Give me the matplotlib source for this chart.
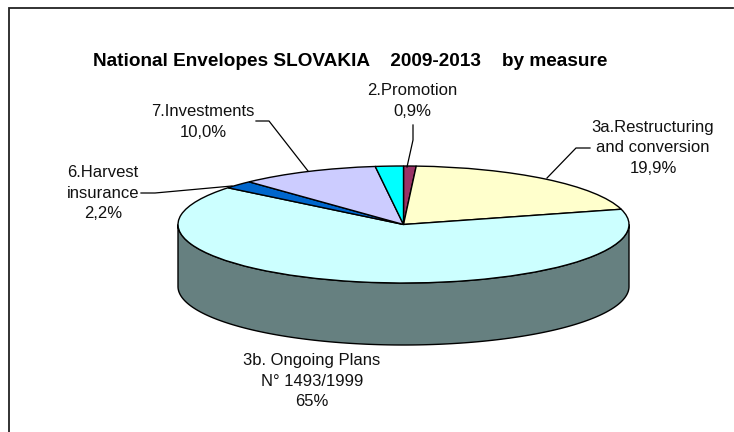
import numpy as np
import matplotlib
matplotlib.use('Agg')
import matplotlib.pyplot as plt
from matplotlib.patches import Polygon

plt.rcParams['font.family'] = ['Liberation Sans', 'DejaVu Sans']

W, H = 734, 432

# clockwise from 12 o'clock
names = ['2.Promotion', '3a.Restructuring\nand conversion', '3b. Ongoing Plans\nN° 1493/1999',
         '6.Harvest\ninsurance', '7.Investments', '']
values = [0.9, 19.9, 65.0, 2.2, 10.0, 2.0]
value_labels = ['0,9%', '19,9%', '65%', '2,2%', '10,0%', '']
colors = ['#993366', '#FFFFCC', '#CCFFFF', '#0066CC', '#CCCCFF', '#00FFFF']
side_color = '#668080'
title = 'National Envelopes SLOVAKIA    2009-2013    by measure'

# pie geometry in pixels
cx, cy = 403.5, 224.5
rx, ry = 225.5, 58.5
depth = 62


def px(x, y):
    # pixel position in the picture -> figure fraction
    return x / W, 1 - y / H


fig = plt.figure(figsize=(W / 100, H / 100), dpi=100, facecolor='white')
ax = fig.add_axes([0, 0, 1, 1])

ax.pie(values, colors=colors, startangle=90, counterclock=False, radius=1,
       wedgeprops={'edgecolor': 'black', 'linewidth': 1.0, 'zorder': 3})
ax.set_aspect('auto')
ax.set_xlim(-cx / rx, (W - cx) / rx)
ax.set_ylim((cy - H) / ry, cy / ry)

# side wall of the disc
t = np.linspace(np.pi, 2 * np.pi, 200)
d = depth / ry
top = np.column_stack([np.cos(t), np.sin(t)])
bottom = np.column_stack([np.cos(t[::-1]), np.sin(t[::-1]) - d])
ax.add_patch(Polygon(np.vstack([top, bottom]), closed=True, facecolor=side_color,
                     edgecolor='black', linewidth=1.0, zorder=2))

# frame only on top and left
xs, ys = zip(*[px(*p) for p in [(8.5, 432), (8.5, 7.5), (733, 7.5)]])
fig.add_artist(plt.Line2D(xs, ys, color='#222222', linewidth=1.3, solid_joinstyle='miter'))

fig.text(*px(93, 62), title, ha='left', va='center', fontsize=13.7, fontweight='bold')

label_pos = [(412, 101), (653, 148), (312, 381), (103, 193), (203, 122)]
for name, val, (x, y) in zip(names, value_labels, label_pos):
    fig.text(*px(x, y), name + '\n' + val, ha='center', va='center', fontsize=12,
             linespacing=1.47, color='#111111')

# leader lines
leaders = [
    [(413, 125), (413, 140), (407, 167)],
    [(590, 148), (576, 148), (547, 178)],
    [(141, 193), (155, 193), (232, 186)],
    [(256, 121), (269, 121), (308, 171)],
]
for pts in leaders:
    xs, ys = zip(*[px(*p) for p in pts])
    fig.add_artist(plt.Line2D(xs, ys, color='black', linewidth=0.9, zorder=5))

fig.savefig('out.png', dpi=100)
